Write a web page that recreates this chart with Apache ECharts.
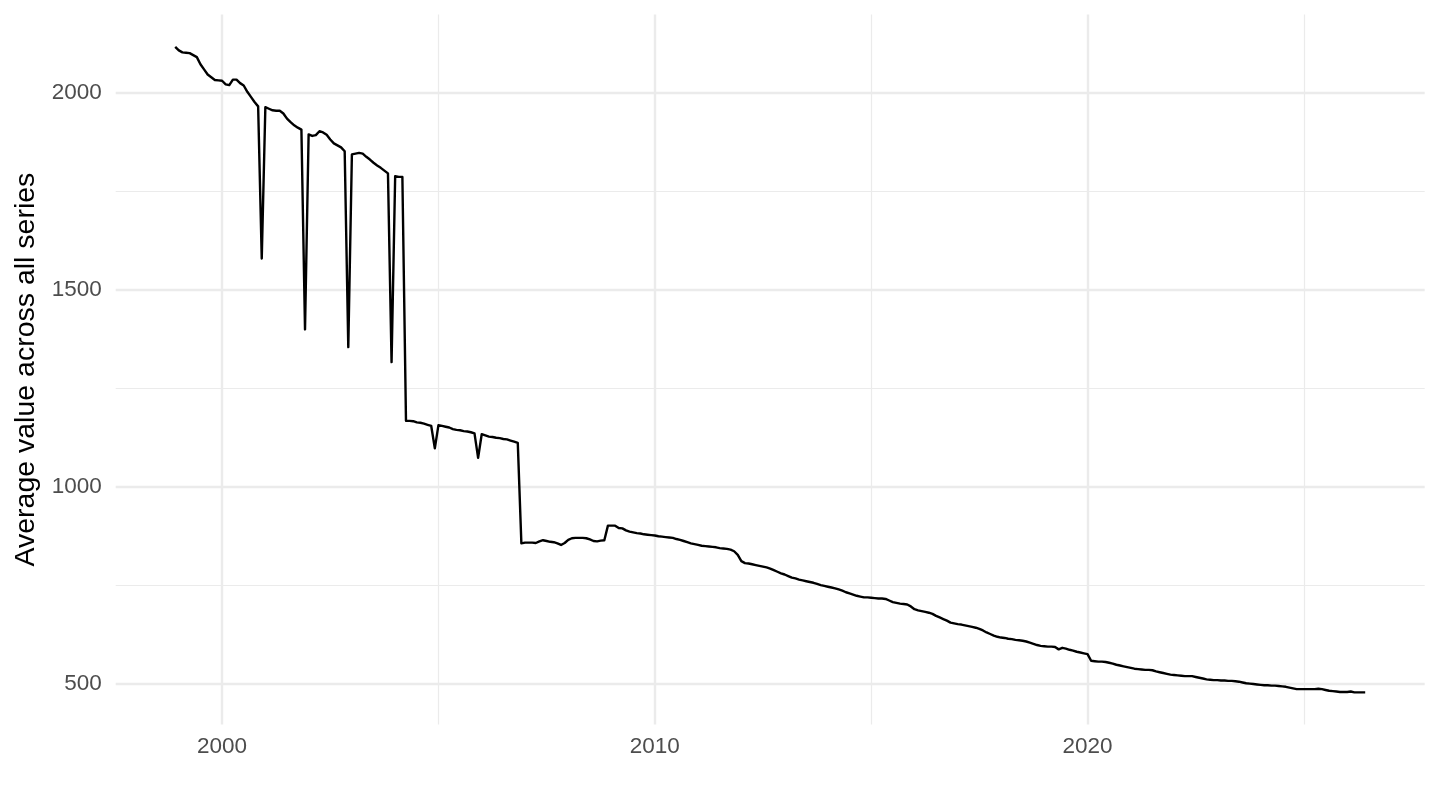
<!DOCTYPE html>
<html>
<head>
<meta charset="utf-8">
<script src="https://cdn.jsdelivr.net/npm/echarts@6/dist/echarts.min.js"></script>
<style>
html,body{margin:0;padding:0;background:#ffffff;}
#chart{width:1440px;height:810px;}
</style>
</head>
<body>
<div id="chart"></div>
<script>
// ---- data ----
const firstMonth = [1998, 12];           // year, month of first observation (monthly series)
const avgValues = [
  2117,
  2108, 2103, 2102, 2101, 2096, 2091, 2073, 2060, 2047, 2040, 2033, 2032, // 1999
  2031, 2022, 2020, 2034, 2034, 2025, 2019, 2003, 1990, 1977, 1966, 1580, // 2000
  1964, 1960, 1956, 1955, 1955, 1948, 1935, 1926, 1918, 1912, 1907, 1400, // 2001
  1895, 1891, 1893, 1903, 1900, 1894, 1882, 1872, 1867, 1862, 1852, 1355, // 2002
  1844, 1846, 1848, 1846, 1838, 1831, 1823, 1816, 1810, 1803, 1796, 1317, // 2003
  1789, 1787, 1787, 1168, 1168, 1167, 1164, 1163, 1161, 1158, 1155, 1098, // 2004
  1157, 1155, 1153, 1151, 1147, 1145, 1144, 1142, 1141, 1139, 1136, 1074, // 2005
  1134, 1131, 1128, 1127, 1125, 1124, 1122, 1121, 1118, 1115, 1112, 857,  // 2006
  859, 859, 859, 858, 862, 865, 863, 861, 860, 857, 853, 858,             // 2007
  866, 870, 871, 871, 871, 870, 867, 863, 862, 864, 865, 902,             // 2008
  902, 902, 896, 895, 890, 887, 885, 883, 882, 880, 879, 878,             // 2009
  877, 875, 874, 873, 872, 871, 868, 866, 863, 860, 857, 855,             // 2010
  853, 851, 850, 849, 848, 847, 845, 844, 843, 841, 837, 828,             // 2011
  812, 807, 806, 804, 802, 800, 798, 796, 793, 789, 785, 781,             // 2012
  778, 774, 770, 768, 765, 763, 761, 759, 757, 754, 751, 749,             // 2013
  747, 745, 743, 740, 737, 733, 730, 727, 724, 722, 720, 720,             // 2014
  719, 718, 717, 717, 716, 712, 708, 706, 704, 703, 702, 697,             // 2015
  690, 687, 685, 683, 681, 678, 673, 669, 665, 661, 656, 654,             // 2016
  652, 651, 649, 647, 645, 643, 640, 636, 631, 627, 623, 620,             // 2017
  618, 617, 615, 614, 612, 611, 610, 608, 605, 602, 599, 597,             // 2018
  596, 595, 595, 594, 588, 592, 590, 587, 585, 582, 580, 578,             // 2019
  576, 559, 558, 557, 557, 556, 554, 552, 549, 547, 545, 543,             // 2020
  541, 539, 538, 537, 536, 536, 535, 532, 530, 528, 526, 524,             // 2021
  523, 522, 521, 520, 520, 520, 518, 516, 514, 512, 511, 510,             // 2022
  510, 509, 509, 508, 508, 507, 506, 504, 502, 501, 500, 499,             // 2023
  498, 497, 497, 496, 496, 495, 494, 493, 491, 489, 487, 487,             // 2024
  487, 487, 487, 487, 488, 487, 485, 483, 482, 481, 480, 480,             // 2025
  480, 481, 479, 479, 479, 479                                            // 2026
];
const xMajorTicks = [2000, 2010, 2020];
const xMinorTicks = [2005, 2015, 2025];
const yMajorTicks = [500, 1000, 1500, 2000];
const yMinorTicks = [750, 1250, 1750];
const yTitle = 'Average value across all series';

// ---- build ----
const points = avgValues.map((v, i) => [firstMonth[0] + (firstMonth[1] - 1 + i) / 12, v]);
const xs = points.map(p => p[0]);
const ys = avgValues;
const xLo = Math.min(...xs), xHi = Math.max(...xs);
const yLo = Math.min(...ys), yHi = Math.max(...ys);
const xPad = (xHi - xLo) * 0.05, yPad = (yHi - yLo) * 0.05;

const GRID = '#ebebeb';
const gridLines = [].concat(
  xMajorTicks.map(v => ({ xAxis: v, lineStyle: { color: GRID, width: 2.4, type: 'solid' } })),
  xMinorTicks.map(v => ({ xAxis: v, lineStyle: { color: GRID, width: 1.2, type: 'solid' } })),
  yMajorTicks.map(v => ({ yAxis: v, lineStyle: { color: GRID, width: 2.4, type: 'solid' } })),
  yMinorTicks.map(v => ({ yAxis: v, lineStyle: { color: GRID, width: 1.2, type: 'solid' } }))
);

const FONT = 'Liberation Sans, Arial, Helvetica, sans-serif';
const chart = echarts.init(document.getElementById('chart'), null, { renderer: 'canvas' });
chart.setOption({
  animation: false,
  backgroundColor: '#ffffff',
  grid: { left: 115.7, right: 15.3, top: 14.6, bottom: 85.4, containLabel: false },
  xAxis: {
    type: 'value',
    min: xLo - xPad,
    max: xHi + xPad,
    axisLine: { show: false },
    axisTick: { show: false },
    splitLine: { show: false },
    axisLabel: {
      customValues: xMajorTicks,
      formatter: v => String(Math.round(v)),
      color: '#4d4d4d', fontSize: 22.5, fontFamily: FONT, margin: 11
    }
  },
  yAxis: {
    type: 'value',
    min: yLo - yPad,
    max: yHi + yPad,
    axisLine: { show: false },
    axisTick: { show: false },
    splitLine: { show: false },
    axisLabel: {
      customValues: yMajorTicks,
      formatter: v => String(Math.round(v)),
      color: '#4d4d4d', fontSize: 22.5, fontFamily: FONT, margin: 14
    },
    name: yTitle,
    nameLocation: 'middle',
    nameRotate: 90,
    nameGap: 74,
    nameTextStyle: { color: '#000000', fontSize: 28.5, fontFamily: FONT }
  },
  series: [
    {
      type: 'line',
      z: 1,
      silent: true,
      data: points,
      showSymbol: false,
      lineStyle: { opacity: 0 },
      markLine: {
        z: 1,
        silent: true,
        symbol: ['none', 'none'],
        label: { show: false },
        animation: false,
        data: gridLines
      }
    },
    {
      type: 'line',
      z: 10,
      data: points,
      showSymbol: false,
      symbol: 'none',
      lineStyle: { color: '#000000', width: 2.4, join: 'round' }
    }
  ]
});
</script>
</body>
</html>
